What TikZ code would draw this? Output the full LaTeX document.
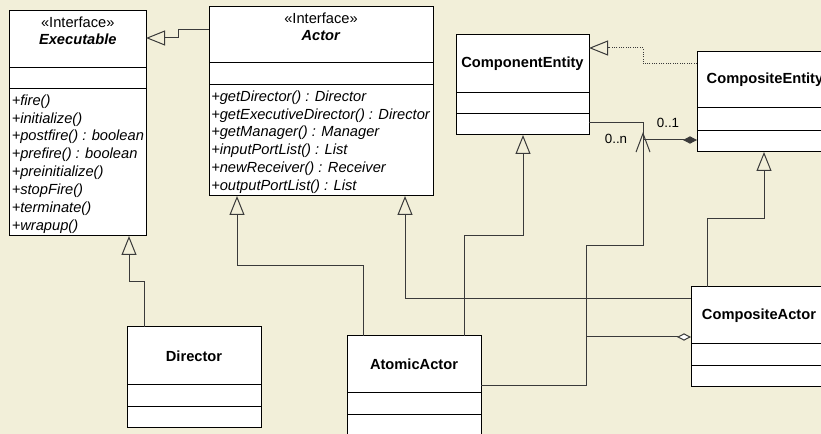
\documentclass[tikz,border=0pt]{standalone}
\usepackage{fontspec}
\setmainfont{Liberation Sans}
\usepackage{tikz}
\usetikzlibrary{arrows.meta,%
                positioning}

\definecolor{bg}{HTML}{F2EFD9}
\definecolor{ln}{HTML}{3A3A3A}

\begin{document}
\begin{tikzpicture}[x=0.75pt,y=-0.75pt,
  box/.style={draw=black, fill=white, line width=0.75pt, inner sep=0pt, outer sep=0pt,
              font=\fontsize{11}{13}\selectfont\bfseries},
  iname/.style={anchor=north, inner sep=4.3pt, align=center,
                font=\fontsize{11}{12.9}\selectfont},
  ops/.style={anchor=north west, inner xsep=1.5pt, inner ysep=4pt, align=left,
              font=\fontsize{11}{13.4}\selectfont\itshape},
  mult/.style={font=\fontsize{10}{12}\selectfont, inner sep=0pt},
  link/.style={draw=ln, line width=0.75pt},
  gen/.style={link, -{Triangle[open, length=14.25pt, width=11.25pt]}},
  real/.style={gen, densely dotted},
  comp/.style={link, {Diamond[length=10.5pt, width=5.5pt]}-},
  aggr/.style={link, {Diamond[open, fill=white, length=10.5pt, width=5.5pt]}-},
  nav/.style={link, -{Straight Barb[length=14pt, width=10.5pt]}}]

\fill[bg] (0,0) rectangle (821,434);
\useasboundingbox (0,0) rectangle (821,434);
\clip (0,0) rectangle (821,434);

% Executable
\node[box, anchor=north west, minimum width=102.4pt, minimum height=42.75pt] (Exec) at (9.5,11) {};
\node[iname] (ExecT) at (Exec.north) {«Interface»\\\textbf{\textit{Executable}}};
\node[box, below=0pt of Exec, minimum width=102.4pt, minimum height=15.75pt] (ExecA) {};
\node[box, below=0pt of ExecA, minimum width=102.4pt, minimum height=110.25pt] (ExecO) {};
\node[ops] (ExecL) at (ExecO.north west) {+fire()\\+initialize()\\+postfire() : boolean\\+prefire() : boolean\\+preinitialize()\\+stopFire()\\+terminate()\\+wrapup()};

% Actor
\node[box, anchor=north west, minimum width=168pt, minimum height=42pt] (Actor) at (209,7) {};
\node[iname] (ActorT) at (Actor.north) {«Interface»\\\textbf{\textit{Actor}}};
\node[box, below=0pt of Actor, minimum width=168pt, minimum height=16.5pt] (ActorA) {};
\node[box, below=0pt of ActorA, minimum width=168pt, minimum height=83.25pt] (ActorO) {};
\node[ops] (ActorL) at (ActorO.north west) {+getDirector() : Director\\+getExecutiveDirector() : Director\\+getManager() : Manager\\+inputPortList() : List\\+newReceiver() : Receiver\\+outputPortList() : List};

% ComponentEntity
\node[box, anchor=north west, minimum width=99.75pt, minimum height=43.5pt] (CompEnt) at (456,35) {ComponentEntity};
\node[box, below=0pt of CompEnt, minimum width=99.75pt, minimum height=15.75pt] (CompEntA) {};
\node[box, below=0pt of CompEntA, minimum width=99.75pt, minimum height=15.75pt] (CompEntO) {};

% CompositeEntity
\node[box, anchor=north west, minimum width=102pt, minimum height=42pt] (CompoEnt) at (697,52) {CompositeEntity};
\node[box, below=0pt of CompoEnt, minimum width=102pt, minimum height=17.25pt] (CompoEntA) {};
\node[box, below=0pt of CompoEntA, minimum width=102pt, minimum height=15.75pt] (CompoEntO) {};

% Director
\node[box, anchor=north west, minimum width=100.5pt, minimum height=43.5pt] (Dir) at (127,327) {Director};
\node[box, below=0pt of Dir, minimum width=100.5pt, minimum height=16.5pt] (DirA) {};
\node[box, below=0pt of DirA, minimum width=100.5pt, minimum height=15.75pt] (DirO) {};

% AtomicActor
\node[box, anchor=north west, minimum width=100.5pt, minimum height=42.75pt] (AtomAct) at (347,336) {AtomicActor};
\node[box, below=0pt of AtomAct, minimum width=100.5pt, minimum height=16.5pt] (AtomActA) {};
\node[box, below=0pt of AtomActA, minimum width=100.5pt, minimum height=15.75pt] (AtomActO) {};

% CompositeActor
\node[box, anchor=north west, minimum width=102pt, minimum height=42.75pt] (CompoAct) at (691,287) {CompositeActor};
\node[box, below=0pt of CompoAct, minimum width=102pt, minimum height=16.5pt] (CompoActA) {};
\node[box, below=0pt of CompoActA, minimum width=102pt, minimum height=15.75pt] (CompoActO) {};

% generalizations
\draw[gen] (Actor.west |- 0,30) -| (178,38) -- (Exec.east |- 0,38);
\draw[gen] (Dir.north -| 144,0) |- (129,282) -- (ExecO.south -| 129,0);
\draw[gen] (AtomAct.north -| 363,0) |- (237,266) -- (ActorO.south -| 237,0);
\draw[gen] (CompoAct.west |- 0,299) -| (ActorO.south -| 405,0);
\draw[gen] (AtomAct.north -| 464,0) |- (523,236) -- (CompEntO.south -| 523,0);
\draw[gen] (CompoAct.north -| 707,0) |- (764,219) -- (CompoEntO.south -| 764,0);
\draw[real] (CompoEnt.west |- 0,64) -| (643,48) -- (CompEnt.east |- 0,48);

% associations
\draw[comp] (CompoEntO.west |- 0,140) -| (643,123) -- (CompEntO.east |- 0,123);
\draw[nav] (AtomAct.east |- 0,386) -| (586,246) -| (643,132);
\coordinate (J) at (586,337);
\draw[aggr] (CompoAct.west |- 0,337) -- (J);
\node[mult] (M1) at (668,123) {0..1};
\node[mult] (Mn) at (616,139) {0..n};
\end{tikzpicture}
\end{document}
